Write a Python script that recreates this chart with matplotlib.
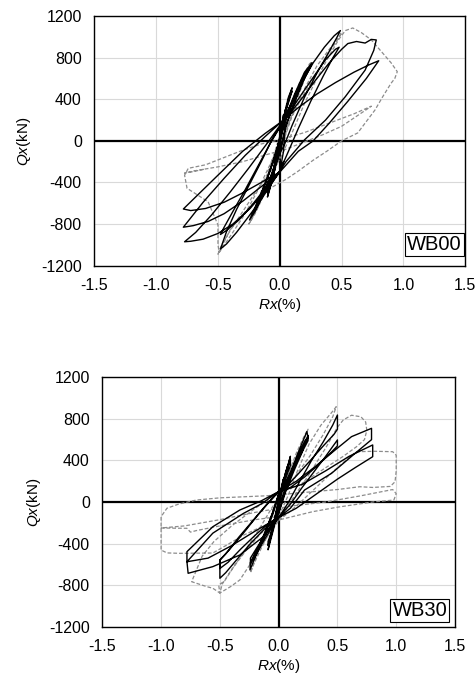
import matplotlib
matplotlib.use("Agg")
import matplotlib.pyplot as plt
import numpy as np

plt.rcParams['font.family'] = ['Liberation Sans', 'DejaVu Sans']
plt.rcParams['axes.unicode_minus'] = False
plt.rcParams['mathtext.fontset'] = 'custom'
plt.rcParams['mathtext.rm'] = 'Liberation Sans'
plt.rcParams['mathtext.it'] = 'Liberation Sans:italic'

x_ticks = [-1.5, -1.0, -0.5, 0.0, 0.5, 1.0, 1.5]
y_ticks = [-1200, -800, -400, 0, 400, 800, 1200]
x_label = r'$Rx$(%)'
y_label = r'$Qx$(kN)'
specimens = ['WB00', 'WB30']

# ---------------- WB00 : solid (black) ----------------
wb00_solid = [
    (0.0, 0), (0.02, 150), (0.03, 250), (0.01, 100), (-0.01, -100), (-0.02, -200), (0.0, 0),
    (0.03, 200), (0.05, 320), (0.03, 220), (0.0, 20), (-0.03, -200), (-0.05, -330), (-0.02, -150), (0.01, 60),
    (0.04, 250), (0.07, 400), (0.1, 510), (0.07, 420), (0.03, 220), (-0.01, -20), (-0.05, -260), (-0.08, -450),
    (-0.1, -540), (-0.07, -420), (-0.03, -220), (0.01, 40),
    (0.05, 300), (0.08, 420), (0.1, 480), (0.06, 330), (0.02, 140), (-0.03, -170), (-0.07, -380), (-0.1, -500),
    (-0.06, -350), (-0.02, -130), (0.02, 80),
    (0.06, 240), (0.12, 420), (0.19, 600), (0.26, 750), (0.2, 660), (0.12, 450), (0.05, 240), (0.01, 60),
    (-0.04, -150), (-0.1, -360), (-0.17, -560), (-0.245, -760), (-0.2, -680), (-0.13, -500), (-0.06, -310), (0.0, -120),
    (0.05, 150), (0.12, 380), (0.18, 560), (0.25, 720), (0.2, 640), (0.13, 460), (0.06, 260), (0.02, 100),
    (-0.04, -140), (-0.1, -350), (-0.16, -540), (-0.22, -700), (-0.18, -630), (-0.11, -460), (-0.05, -280), (0.0, -110),
    (0.05, 140), (0.12, 370), (0.2, 600), (0.24, 700), (0.19, 610), (0.12, 430), (0.05, 220), (0.01, 60),
    (-0.05, -190), (-0.12, -420), (-0.19, -620), (-0.2, -650), (-0.15, -540), (-0.08, -360), (-0.02, -170),
    (0.04, -30), (0.1, 150), (0.2, 420), (0.3, 650), (0.4, 860), (0.46, 990), (0.49, 1060),
    (0.44, 1010), (0.36, 900), (0.27, 750), (0.17, 540), (0.08, 330), (0.02, 170),
    (-0.06, 20), (-0.15, -200), (-0.25, -430), (-0.35, -660), (-0.43, -870), (-0.48, -1040),
    (-0.43, -990), (-0.35, -880), (-0.26, -740), (-0.16, -580), (-0.07, -420), (0.0, -290),
    (0.07, -100), (0.15, 120), (0.25, 380), (0.35, 620), (0.43, 800), (0.48, 900),
    (0.45, 880), (0.37, 780), (0.27, 610), (0.16, 420), (0.07, 260), (0.02, 170),
    (-0.08, -30), (-0.18, -250), (-0.28, -470), (-0.38, -680), (-0.45, -830), (-0.48, -900),
    (-0.43, -860), (-0.33, -760), (-0.22, -610), (-0.12, -460), (-0.04, -340), (0.0, -290),
    (0.05, -200), (0.2, 10), (0.37, 200), (0.53, 425), (0.69, 680), (0.76, 870), (0.78, 970),
    (0.74, 975), (0.69, 940), (0.62, 955), (0.55, 935), (0.5, 880), (0.4, 750), (0.3, 600), (0.18, 410),
    (0.08, 260), (0.02, 180),
    (-0.1, -20), (-0.25, -260), (-0.4, -490), (-0.55, -710), (-0.68, -880), (-0.77, -970),
    (-0.72, -965), (-0.62, -945), (-0.5, -890), (-0.38, -800), (-0.24, -650), (-0.11, -470), (0.0, -300),
    (0.15, -100), (0.27, 0), (0.4, 170), (0.55, 380), (0.7, 600), (0.8, 770),
    (0.72, 730), (0.6, 660), (0.45, 560), (0.3, 450), (0.15, 320), (0.02, 190),
    (-0.12, 40), (-0.28, -140), (-0.45, -360), (-0.62, -590), (-0.78, -830),
    (-0.7, -815), (-0.58, -775), (-0.45, -700), (-0.3, -580), (-0.15, -440), (0.0, -300),
    (0.03, -100), (0.04, 100), (0.02, 190),
    (-0.12, 70), (-0.3, -100), (-0.5, -330), (-0.78, -655),
    (-0.72, -670), (-0.6, -650), (-0.45, -590), (-0.3, -500), (-0.15, -400), (0.0, -300), (0.03, -200),
]

# ---------------- WB00 : dashed (grey) ----------------
wb00_dashed = [
    (0.0, 0), (0.03, 220), (0.06, 380), (0.09, 470), (0.06, 330), (0.02, 120), (-0.02, -120), (-0.06, -330),
    (-0.09, -470), (-0.06, -330), (-0.02, -100), (0.02, 120),
    (0.08, 320), (0.16, 560), (0.24, 740), (0.26, 760), (0.2, 650), (0.12, 440), (0.05, 220), (0.0, 50),
    (-0.06, -180), (-0.13, -420), (-0.2, -650), (-0.25, -800), (-0.2, -700), (-0.12, -500), (-0.05, -300), (0.0, -120),
    (0.06, 120), (0.14, 400), (0.22, 660), (0.25, 720), (0.18, 560), (0.1, 340), (0.03, 120),
    (-0.05, -160), (-0.13, -430), (-0.2, -660), (-0.24, -780), (-0.18, -640), (-0.1, -440), (-0.02, -220), (0.03, 0),
    (0.1, 240), (0.2, 500), (0.3, 720), (0.4, 880), (0.48, 1000), (0.5, 1040), (0.46, 960), (0.38, 820),
    (0.28, 620), (0.17, 400), (0.07, 170), (0.0, -20),
    (-0.08, -230), (-0.18, -480), (-0.28, -700), (-0.38, -880), (-0.46, -1020), (-0.5, -1090),
    (-0.47, -1000), (-0.4, -860), (-0.3, -680), (-0.2, -500), (-0.1, -330), (0.0, -180),
    (0.1, 80), (0.2, 360), (0.3, 600), (0.4, 820), (0.48, 980), (0.53, 1060), (0.59, 1085), (0.66, 1040),
    (0.74, 970), (0.82, 860), (0.9, 750), (0.95, 665), (0.93, 600), (0.9, 554), (0.83, 420), (0.77, 297),
    (0.63, 76), (0.5, 0), (0.38, -100), (0.27, -186), (0.15, -290), (0.05, -370),
    (-0.1, -470), (-0.25, -640), (-0.4, -850), (-0.49, -1070), (-0.5, -1000), (-0.5, -808),
    (-0.58, -585), (-0.75, -456), (-0.77, -330), (-0.74, -264),
    (-0.6, -230), (-0.45, -160), (-0.3, -90), (-0.15, -30), (0.0, 10), (0.2, 80), (0.4, 170), (0.6, 260),
    (0.74, 333), (0.7, 300), (0.6, 220), (0.5, 140), (0.35, 60), (0.2, -10), (0.05, -80),
    (-0.1, -130), (-0.3, -200), (-0.5, -250), (-0.7, -290), (-0.77, -310), (-0.72, -300), (-0.6, -270),
]

# ---------------- WB30 : solid (black) ----------------
wb30_solid = [
    (0.0, 0), (0.02, 120), (0.04, 220), (0.02, 120), (-0.01, -60), (-0.03, -180), (-0.05, -260), (-0.03, -170), (0.0, 0),
    (0.03, 160), (0.06, 290), (0.08, 360), (0.05, 240), (0.01, 60), (-0.03, -150), (-0.06, -300), (-0.08, -400),
    (-0.05, -270), (-0.02, -120), (0.01, 40),
    (0.05, 230), (0.08, 350), (0.1, 440), (0.07, 320), (0.03, 150), (-0.02, -80), (-0.05, -240), (-0.08, -400),
    (-0.09, -460), (-0.06, -330), (-0.02, -160), (0.01, 20),
    (0.05, 200), (0.08, 330), (0.1, 410), (0.1, 350), (0.06, 230), (0.02, 90), (-0.02, -100), (-0.06, -280),
    (-0.09, -420), (-0.09, -380), (-0.05, -250), (-0.01, -80),
    (0.03, 50), (0.09, 240), (0.16, 460), (0.24, 677), (0.25, 620), (0.2, 500), (0.13, 330), (0.06, 170), (0.0, 60),
    (-0.05, -120), (-0.11, -300), (-0.18, -480), (-0.244, -654), (-0.24, -580), (-0.19, -470), (-0.12, -330),
    (-0.05, -200), (0.0, -100),
    (0.05, 80), (0.11, 270), (0.18, 480), (0.25, 640), (0.25, 590), (0.19, 460), (0.12, 310), (0.05, 160), (0.0, 70),
    (-0.06, -130), (-0.12, -310), (-0.18, -460), (-0.24, -600), (-0.24, -540), (-0.18, -430), (-0.1, -290),
    (-0.04, -180), (0.0, -110),
    (0.06, 100), (0.13, 300), (0.2, 480), (0.23, 600), (0.2, 530), (0.13, 360), (0.06, 190), (0.0, 80),
    (-0.05, -100), (-0.12, -300), (-0.18, -450), (-0.22, -560), (-0.19, -500), (-0.12, -360), (-0.05, -230), (0.0, -150),
    (0.08, -10), (0.18, 200), (0.28, 400), (0.38, 580), (0.46, 740), (0.5, 837), (0.5, 700), (0.47, 650),
    (0.38, 540), (0.27, 400), (0.15, 250), (0.05, 130), (0.0, 100),
    (-0.08, 0), (-0.18, -130), (-0.3, -300), (-0.42, -460), (-0.5, -558), (-0.5, -734), (-0.45, -680),
    (-0.36, -560), (-0.24, -400), (-0.12, -260), (0.0, -150),
    (0.1, -20), (0.2, 140), (0.3, 290), (0.4, 440), (0.47, 550), (0.5, 597), (0.5, 540), (0.44, 470),
    (0.34, 360), (0.22, 240), (0.1, 140), (0.0, 100),
    (-0.1, -20), (-0.22, -180), (-0.34, -340), (-0.45, -500), (-0.5, -560), (-0.5, -640), (-0.43, -580),
    (-0.32, -450), (-0.2, -320), (-0.08, -200), (0.0, -150),
    (0.1, -60), (0.22, 115), (0.45, 276), (0.65, 468), (0.79, 600), (0.79, 709),
    (0.62, 629), (0.48, 500), (0.31, 340), (0.15, 200), (0.0, 100),
    (-0.15, 10), (-0.33, -77), (-0.56, -238), (-0.78, -478), (-0.78, -575),
    (-0.6, -540), (-0.4, -420), (-0.2, -280), (0.0, -150),
    (0.15, -60), (0.3, 60), (0.5, 220), (0.65, 330), (0.8, 436), (0.8, 549),
    (0.6, 440), (0.4, 300), (0.2, 170), (0.0, 100),
    (-0.15, -20), (-0.3, -110), (-0.56, -300), (-0.78, -575), (-0.77, -686),
    (-0.56, -622), (-0.33, -510), (-0.13, -334), (0.0, -150),
]

# ---------------- WB30 : dashed (grey) ----------------
wb30_dashed = [
    (0.0, 0), (0.03, 150), (0.06, 280), (0.09, 380), (0.06, 260), (0.02, 90), (-0.02, -100), (-0.05, -250),
    (-0.08, -380), (-0.05, -260), (-0.01, -80), (0.02, 60),
    (0.08, 260), (0.15, 470), (0.22, 640), (0.25, 700), (0.2, 560), (0.12, 360), (0.05, 170), (0.0, 50),
    (-0.06, -140), (-0.13, -340), (-0.19, -520), (-0.24, -680), (-0.22, -620), (-0.15, -450), (-0.07, -270), (0.0, -140),
    (0.08, 60), (0.16, 300), (0.26, 560), (0.36, 740), (0.45, 860), (0.49, 917), (0.46, 820), (0.38, 650),
    (0.27, 450), (0.15, 260), (0.05, 120),
    (-0.06, -60), (-0.16, -250), (-0.27, -440), (-0.38, -620), (-0.46, -760), (-0.51, -799), (-0.5, -876),
    (-0.41, -815), (-0.33, -750), (-0.22, -560), (-0.1, -340), (0.0, -180),
    (0.1, 0), (0.25, 250), (0.4, 520), (0.5, 720), (0.55, 790), (0.62, 835), (0.7, 820), (0.74, 770),
    (0.75, 690), (0.73, 600), (0.66, 530), (0.55, 440), (0.4, 330), (0.2, 180), (0.0, 80),
    (-0.2, -60), (-0.4, -230), (-0.55, -380), (-0.65, -520), (-0.74, -767), (-0.61, -815), (-0.56, -830),
    (-0.5, -876), (-0.48, -790), (-0.4, -650), (-0.28, -470), (-0.15, -300), (0.0, -180),
    (0.15, -40), (0.3, 120), (0.45, 280), (0.6, 430), (0.66, 484), (0.82, 488), (0.97, 484), (1.0, 450),
    (1.0, 300), (0.99, 195), (0.95, 150), (0.8, 140), (0.69, 147), (0.5, 120), (0.3, 100), (0.1, 80),
    (-0.1, 60), (-0.3, 50), (-0.5, 40), (-0.7, 19), (-0.85, -20), (-0.95, -60), (-1.0, -141),
    (-1.0, -300), (-1.0, -462), (-0.95, -490), (-0.84, -494), (-0.7, -492), (-0.56, -491),
    (-0.45, -420), (-0.3, -320), (-0.15, -240), (0.0, -173),
    (0.29, -93), (0.5, -50), (0.8, 0), (0.98, 19), (1.0, 80), (0.97, 120),
    (0.7, 60), (0.4, 0), (0.1, -40), (-0.2, -100), (-0.5, -170), (-0.8, -230), (-1.0, -250),
    (-0.9, -252), (-0.78, -253), (-0.75, -290), (-0.7, -275), (-0.5, -230), (-0.2, -170), (0.0, -140),
]

series = {
    'WB00': (wb00_solid, wb00_dashed),
    'WB30': (wb30_solid, wb30_dashed),
}

fig = plt.figure(figsize=(4.76, 6.79), dpi=100)
axes_rects = [
    [94.3 / 476, 1 - 265.7 / 679, (465.3 - 94.3) / 476, (265.7 - 16) / 679],
    [102.3 / 476, 1 - 626.7 / 679, (455 - 102.3) / 476, (626.7 - 377.3) / 679],
]
label_anchor = [(0.99, 0.045), (0.978, 0.028)]
ylabel_pad = [6, 4]

for name, rect, anc, ylp in zip(specimens, axes_rects, label_anchor, ylabel_pad):
    ax = fig.add_axes(rect)
    solid, dashed = series[name]
    dx, dy = zip(*dashed)
    sx, sy = zip(*solid)
    ax.plot(dx, dy, color='#8c8c8c', lw=0.9, ls=(0, (3, 1.6)), zorder=3)
    ax.plot(sx, sy, color='black', lw=1.0, zorder=4)
    ax.axhline(0, color='black', lw=1.6, zorder=2)
    ax.axvline(0, color='black', lw=1.6, zorder=2)
    ax.set_xlim(-1.5, 1.5)
    ax.set_ylim(-1200, 1200)
    ax.set_xticks(x_ticks)
    ax.set_yticks(y_ticks)
    ax.set_xticklabels([f'{v:.1f}' for v in x_ticks])
    ax.set_yticklabels([f'{v:d}' for v in y_ticks])
    ax.grid(True, color='#d9d9d9', lw=0.8, zorder=0)
    ax.set_axisbelow(True)
    ax.tick_params(length=0, labelsize=11.5, pad=9)
    for sp in ax.spines.values():
        sp.set_linewidth(1.0)
        sp.set_color('black')
    ax.set_ylabel(y_label, fontsize=11, labelpad=ylp)
    ax.set_xlabel(x_label, fontsize=11, labelpad=2)
    ax.text(anc[0], anc[1], name, transform=ax.transAxes, ha='right', va='bottom',
            fontsize=14.5, zorder=6,
            bbox=dict(boxstyle='square,pad=0.1', fc='white', ec='black', lw=0.8))

fig.savefig('out.png', dpi=100)
